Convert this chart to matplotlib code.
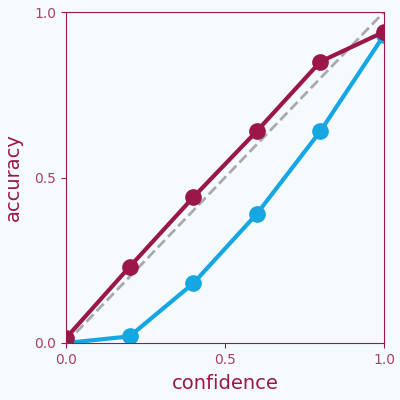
import numpy as np
import matplotlib
matplotlib.use('Agg')
import matplotlib.pyplot as plt

confidence = [0.0, 0.2, 0.4, 0.6, 0.8, 1.0]
acc_maroon = [0.015, 0.23, 0.44, 0.64, 0.85, 0.94]
acc_blue = [0.0, 0.02, 0.18, 0.39, 0.64, 0.93]
ticks = [0.0, 0.5, 1.0]

maroon = '#9b1748'
blue = '#16a6e1'
bg = '#f5faff'

fig = plt.figure(figsize=(4, 4), dpi=100, facecolor=bg)
ax = fig.add_axes([0.165, 0.1425, 0.795, 0.8275], facecolor=bg)

ax.plot([0, 1], [0, 1], '--', color='#aaaaaa', lw=2, zorder=1)
ax.plot(confidence, acc_blue, '-o', color=blue, lw=3, ms=11, zorder=2)
ax.plot(confidence, acc_maroon, '-o', color=maroon, lw=3, ms=11, zorder=3)

ax.set_xlim(0, 1)
ax.set_ylim(0, 1)
ax.set_xticks(ticks)
ax.set_yticks(ticks)
ax.set_xticklabels(['{:.1f}'.format(t) for t in ticks])
ax.set_yticklabels(['{:.1f}'.format(t) for t in ticks])
for s in ax.spines.values():
    s.set_color(maroon)
ax.tick_params(colors=maroon, labelcolor='#a8406c', labelsize=10)
ax.set_xlabel('confidence', color=maroon, fontsize=14, labelpad=5)
ax.set_ylabel('accuracy', color=maroon, fontsize=14, labelpad=8)

fig.savefig('out.png', facecolor=bg)
